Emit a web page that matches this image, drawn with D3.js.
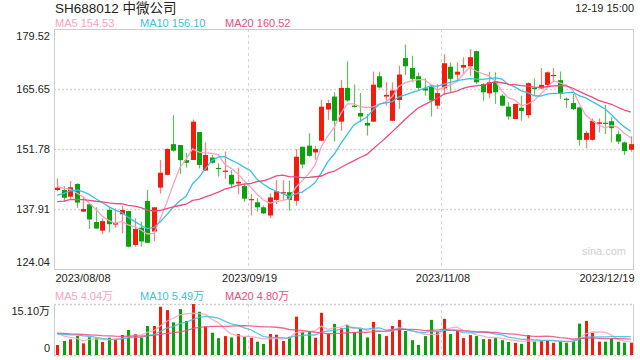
<!DOCTYPE html>
<html><head><meta charset="utf-8">
<script src="https://cdn.jsdelivr.net/npm/d3@7"></script>
<style>
body{margin:0;background:#fff}
svg{display:block}
text{font-family:"Liberation Sans",Arial,"Noto Sans CJK SC",sans-serif}
</style>
</head><body>
<svg id="c" width="640" height="360"></svg>
<script>
// ---- data ----
const title = "SH688012 中微公司";
const timeLabel = "12-19 15:00";
const dates = [
"2023/08/08","2023/08/09","2023/08/10","2023/08/11","2023/08/14","2023/08/15","2023/08/16","2023/08/17","2023/08/18",
"2023/08/21","2023/08/22","2023/08/23","2023/08/24","2023/08/25","2023/08/28","2023/08/29","2023/08/30","2023/08/31",
"2023/09/01","2023/09/04","2023/09/05","2023/09/06","2023/09/07","2023/09/08","2023/09/11","2023/09/12","2023/09/13",
"2023/09/14","2023/09/15","2023/09/18","2023/09/19","2023/09/20","2023/09/21","2023/09/22","2023/09/25","2023/09/26",
"2023/09/27","2023/09/28","2023/10/09","2023/10/10","2023/10/11","2023/10/12","2023/10/13","2023/10/16","2023/10/17",
"2023/10/18","2023/10/19","2023/10/20","2023/10/23","2023/10/24","2023/10/25","2023/10/26","2023/10/27","2023/10/30",
"2023/10/31","2023/11/01","2023/11/02","2023/11/03","2023/11/06","2023/11/07","2023/11/08","2023/11/09","2023/11/10",
"2023/11/13","2023/11/14","2023/11/15","2023/11/16","2023/11/17","2023/11/20","2023/11/21","2023/11/22","2023/11/23",
"2023/11/24","2023/11/27","2023/11/28","2023/11/29","2023/11/30","2023/12/01","2023/12/04","2023/12/05","2023/12/06",
"2023/12/07","2023/12/08","2023/12/11","2023/12/12","2023/12/13","2023/12/14","2023/12/15","2023/12/18","2023/12/19"];
const open = [142.3,142.3,140.75,143.7,137.3,139.0,134.9,132.9,137.7,134.3,
136.7,137.45,129.6,133.6,139.76,132.7,142.84,145.8,152.9,152.7,
149.2,149.24,155.7,146.8,149.8,147.4,146.5,145.8,143.8,143.2,
140.0,139.45,138.3,136.4,140.0,141.5,141.8,139.8,152.3,152.55,
151.0,153.7,160.9,163.9,158.1,165.9,161.8,160.1,157.8,158.1,
168.6,163.9,158.3,163.1,172.8,170.5,168.6,165.8,166.2,161.8,
165.8,170.8,168.96,170.6,170.9,174.4,166.8,164.65,167.35,164.1,
161.56,158.7,161.3,159.6,165.9,165.8,166.6,168.7,167.7,163.4,
162.4,161.4,153.9,153.9,157.6,157.85,158.2,155.2,153.3,151.6];
const close = [142.84,140.5,142.93,139.4,137.9,135.5,133.4,135.1,134.4,134.7,
137.7,129.2,133.3,130.4,130.1,138.3,146.3,151.8,151.4,149.2,
148.6,158.1,148.1,150.4,148.6,147.2,146.8,143.6,144.2,140.3,
140.2,138.3,136.9,140.6,142.0,141.8,140.0,150.0,148.2,150.2,
151.8,161.56,162.4,158.3,165.9,163.0,161.5,159.3,157.2,166.65,
166.0,164.3,165.3,169.0,170.9,168.0,165.9,165.3,163.0,164.7,
171.6,168.0,169.65,171.2,173.0,167.2,164.9,167.2,164.9,161.8,
159.3,162.2,160.6,167.0,165.8,166.6,169.5,168.9,164.5,163.2,
161.0,153.9,155.5,158.3,157.95,157.7,156.6,153.5,151.3,152.9];
const high = [145.0,143.2,144.38,143.85,140.75,139.2,138.3,135.76,138.3,138.07,
138.6,137.5,135.76,135.0,142.3,138.4,149.24,151.9,159.6,152.7,
150.9,158.6,155.7,153.3,150.4,148.5,151.2,146.9,147.5,143.85,
141.4,140.45,138.7,141.5,144.6,144.6,144.45,151.78,152.3,155.4,
152.55,163.1,163.1,164.9,167.7,172.05,166.65,164.7,159.9,169.7,
169.65,167.2,167.2,171.04,175.9,173.35,169.5,168.1,166.4,166.8,
173.7,171.8,171.8,172.97,174.9,174.5,166.97,169.65,169.5,164.5,
162.6,162.3,164.1,167.2,168.1,170.5,169.7,170.5,169.7,163.7,
164.5,161.56,156.0,158.87,158.87,161.95,159.1,156.0,153.5,154.7];
const low = [142.0,139.6,140.15,138.2,137.2,133.3,133.3,132.1,132.5,133.6,
132.3,129.05,129.2,129.2,130.0,130.5,141.5,145.7,151.16,146.0,
147.5,149.2,147.3,146.7,148.4,145.4,144.85,142.7,141.3,139.6,
136.4,137.3,136.75,135.8,139.06,140.06,137.5,138.7,147.3,150.0,
149.3,153.6,158.5,153.5,156.0,162.7,161.4,157.95,154.9,158.0,
165.8,161.8,158.2,161.03,168.9,167.2,165.3,164.1,159.3,161.0,
164.3,164.9,167.2,169.1,168.7,166.8,162.95,163.5,162.2,161.65,
158.55,158.7,158.3,158.9,164.3,165.65,166.4,167.2,163.3,161.3,
160.8,152.55,151.94,153.7,155.6,155.25,153.3,152.9,150.4,151.16];
// volume in 万 (10k shares)
const volume = [2.96,4.15,4.64,5.63,3.45,5.23,4.94,3.85,5.13,4.64,
5.92,7.4,6.22,5.23,8.59,8.59,14.3,13.3,9.67,13.6,
10.1,15.1,12.8,8.4,6.6,5.0,5.6,5.2,6.2,5.4,
5.1,3.95,3.26,6.2,6.0,4.15,5.4,11.35,6.9,6.9,
5.1,12.5,6.4,9.2,7.9,8.9,6.7,7.7,5.2,9.8,
6.2,5.6,8.6,10.4,7.1,4.4,3.0,5.6,10.4,6.9,
10.7,6.2,7.2,5.0,5.9,5.6,4.7,4.7,5.1,4.4,
3.85,3.6,3.3,5.9,3.95,4.2,4.2,3.6,4.2,3.6,
4.2,9.3,10.1,6.5,3.95,3.95,4.9,3.95,3.65,3.65];
// sessions before the first visible one (estimated from where the MA lines start)
const priorCloses = [137.5,136.8,138.2,139.0,138.5,137.6,138.0,139.2,138.4,137.8,
136.5,137.2,137.2,141.5,142.6,143.0,144.1,143.5,142.6];
const priorVolumes = [6.2,7.5,6.8,5.9,7.2,6.4,6.9,7.1,6.3,6.7,
5.8,6.4,5.6,6.3,6.4,8.2,7.1,6.9,7.3];
const maPeriods = [5,10,20];
const maPriceLabels = ["MA5 154.53","MA10 156.10","MA20 160.52"];
const maVolLabels = ["MA5 4.04万","MA10 5.49万","MA20 4.80万"];
const priceTicks = [179.52,165.65,151.78,137.91,124.04];
const volTicks = [15.10,0];
const dateTickIdx = [0,30,60,89];

// ---- styles ----
const RED="#f51b0c", GREEN="#08a30a", RED_W="#f6817a", GREEN_W="#62c062";
const MA_COL=["#f8a3c1","#3bc1e1","#ec4b80"];
const GRID="#d6d6d6", FRAME="#cccccc";

const svg=d3.select("#c");
const L=54, R=634, T=29, B=269, VT=304, VB=355;
const n=close.length;
const x=d3.scaleLinear().domain([-0.5,n-0.5]).range([L,R]);
const y=d3.scaleLinear().domain([priceTicks[4],priceTicks[0]]).range([B,T]);
const yv=d3.scaleLinear().domain([0,volTicks[0]]).range([VB,VT]);

function ma(vals, prior, p){
  const all=prior.concat(vals), off=prior.length;
  return vals.map((_,i)=>{const s=all.slice(off+i-p+1,off+i+1);return d3.mean(s);});
}

// header
svg.append("text").attr("x",55).attr("y",13).attr("font-size",13.5).attr("fill","#222").text(title);
svg.append("text").attr("x",634).attr("y",12).attr("text-anchor","end").attr("font-size",11).attr("fill","#222").text(timeLabel);
const maX=[55,140,225];
maPriceLabels.forEach((t,k)=>svg.append("text").attr("x",maX[k]).attr("y",27).attr("font-size",11).attr("fill",MA_COL[k]).text(t));
maVolLabels.forEach((t,k)=>svg.append("text").attr("x",maX[k]).attr("y",300).attr("font-size",11).attr("fill",MA_COL[k]).text(t));

// grid
const g=svg.append("g");
[priceTicks[1],priceTicks[2],priceTicks[3]].forEach(v=>{
  g.append("line").attr("x1",L).attr("x2",R).attr("y1",Math.round(y(v))+0.5).attr("y2",Math.round(y(v))+0.5)
   .attr("stroke",GRID).attr("stroke-width",1.3).attr("stroke-dasharray","2,2");
});
[30,60].forEach(i=>{
  const xx=Math.round(x(i)-2.5)+0.5;
  [[T,B],[VT,VB]].forEach(([a,b])=>g.append("line").attr("x1",xx).attr("x2",xx).attr("y1",a).attr("y2",b)
   .attr("stroke",GRID).attr("stroke-width",1).attr("stroke-dasharray","3,3"));
});
// frames
svg.append("rect").attr("x",L+0.5).attr("y",T+0.5).attr("width",R-L-1).attr("height",B-T).attr("fill","none").attr("stroke",FRAME);
svg.append("line").attr("x1",L+0.5).attr("x2",L+0.5).attr("y1",VT).attr("y2",VB).attr("stroke",FRAME);
svg.append("line").attr("x1",R-0.5).attr("x2",R-0.5).attr("y1",VT).attr("y2",VB).attr("stroke",FRAME);
[VT+0.5,VB+0.5].forEach(yy=>svg.append("line").attr("x1",L).attr("x2",R).attr("y1",yy).attr("y2",yy)
  .attr("stroke",FRAME).attr("stroke-width",1.3).attr("stroke-dasharray","2,2"));

// watermark
svg.append("text").attr("x",626).attr("y",255).attr("text-anchor","end").attr("font-size",11).attr("fill","#cfcfcf").text("sina.com");

// price axis
const ax=svg.append("g").attr("transform",`translate(${L},0)`)
  .call(d3.axisLeft(y).tickValues(priceTicks).tickSize(0).tickPadding(4).tickFormat(d3.format(".2f")));
ax.select(".domain").remove();
ax.selectAll("text").attr("font-size",11).attr("fill","#222").attr("font-family",null)
  .attr("dy",(d,i)=> i===0? "0.95em" : i===4? "-0.3em":"0.32em");
// volume axis
const av=svg.append("g").attr("transform",`translate(${L},0)`)
  .call(d3.axisLeft(yv).tickValues(volTicks).tickSize(0).tickPadding(4).tickFormat(d=>d===0?"0":d3.format(".2f")(d)+"万"));
av.select(".domain").remove();
av.selectAll("text").attr("font-size",11).attr("fill","#222").attr("font-family",null)
  .attr("dy",(d,i)=> i===0? "0.95em":"-0.3em");
// date axis
const ad=svg.append("g").attr("transform",`translate(0,${B})`)
  .call(d3.axisBottom(x).tickValues(dateTickIdx).tickSize(0).tickPadding(5).tickFormat(i=>dates[i]));
ad.select(".domain").remove();
ad.selectAll("text").attr("font-size",11).attr("fill","#222").attr("font-family",null)
  .attr("text-anchor",(d,i)=> i===0?"start": i===3?"end":"middle")
  .attr("x",(d,i)=> i===0? L+1-x(d) : i===3? R-x(d) : -1.5);

// candles
const up=i=>close[i]>=open[i];
const idx=d3.range(n);
const cg=svg.append("g");
cg.selectAll("line.w").data(idx).join("line")
  .attr("x1",i=>Math.round(x(i))+0.5).attr("x2",i=>Math.round(x(i))+0.5)
  .attr("y1",i=>y(high[i])).attr("y2",i=>y(low[i]))
  .attr("stroke",i=>up(i)?RED_W:GREEN_W).attr("stroke-width",1.2);
cg.selectAll("rect.b").data(idx).join("rect")
  .attr("x",i=>Math.round(x(i))-2).attr("width",5)
  .attr("y",i=>y(Math.max(open[i],close[i])))
  .attr("height",i=>Math.max(1.2,Math.abs(y(open[i])-y(close[i]))))
  .attr("fill",i=>up(i)?RED:GREEN);

// volume bars
svg.append("g").selectAll("rect").data(idx).join("rect")
  .attr("x",i=>Math.round(x(i))-1).attr("width",3)
  .attr("y",i=>yv(volume[i])).attr("height",i=>VB-yv(volume[i]))
  .attr("fill",i=>up(i)?RED:GREEN);

// MA lines
const line=(sc)=>d3.line().x((d,i)=>x(i)).y(d=>sc(d)).curve(d3.curveLinear);
maPeriods.forEach((p,k)=>{
  svg.append("path").datum(ma(close,priorCloses,p)).attr("d",line(y)).attr("fill","none")
    .attr("stroke",MA_COL[k]).attr("stroke-width",1.3);
  svg.append("path").datum(ma(volume,priorVolumes,p)).attr("d",line(yv)).attr("fill","none")
    .attr("stroke",MA_COL[k]).attr("stroke-width",1.3).attr("opacity",0.85);
});
</script>
</body></html>
